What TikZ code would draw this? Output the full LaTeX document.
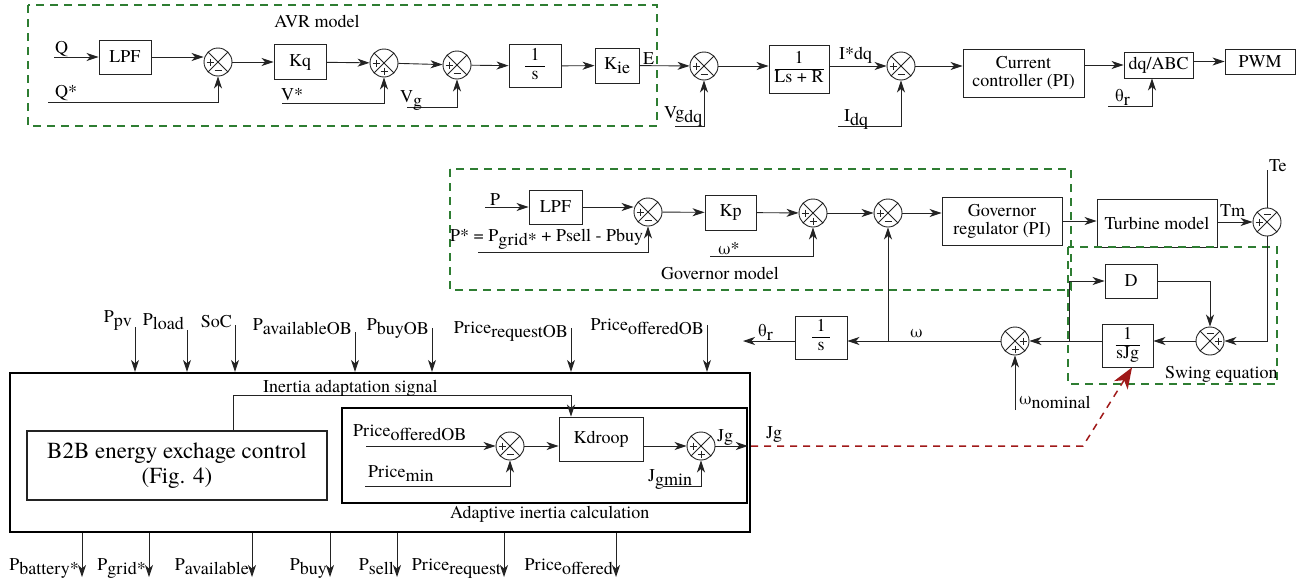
\documentclass[tikz,border=0pt]{standalone}
\usepackage{fontspec}
\setmainfont{TeX Gyre Termes}
\usetikzlibrary{arrows.meta,calc}
\definecolor{dgreen}{RGB}{46,125,50}
\definecolor{dred}{RGB}{160,25,25}
\definecolor{lc}{RGB}{35,35,35}
\newcommand\lw[1]{\raisebox{-4.5pt}{#1}}
\newcommand\frc[3]{{\setlength\arrayrulewidth{0.8pt}\begin{tabular}{@{}c@{}}\makebox[#1]{#2}\\\hline\makebox[#1]{#3}\end{tabular}}}
\newcommand\sgns[2]{%
  \foreach \dx/\dy/\pl in {#2}{%
    \draw[sgn] ($(#1.center)+(\dx-3.5,\dy)$) -- ++(7,0);
    \ifnum\pl=1 \draw[sgn] ($(#1.center)+(\dx,\dy-3.5)$) -- ++(0,7);\fi
  }}
\begin{document}
\begin{tikzpicture}[x=1pt,y=-1pt,
  font=\fontsize{18}{18}\selectfont,
  ln/.style={draw=lc,line width=0.9pt},
  arr/.style={ln,-{Stealth[length=12pt,width=8pt,inset=3.5pt]}},
  blk/.style={draw=lc,line width=0.9pt,inner sep=0pt,align=center},
  bx/.style 2 args={blk,minimum width=#1pt,minimum height=#2pt},
  sumnode/.style={circle,draw=lc,line width=0.9pt,minimum size=28pt,inner sep=0pt,
    path picture={\draw[lc,line width=0.9pt] (path picture bounding box.north west)--(path picture bounding box.south east) (path picture bounding box.north east)--(path picture bounding box.south west);}},
  sgn/.style={draw=lc,line width=0.7pt},
  grp/.style={draw=dgreen,line width=1.8pt,dash pattern=on 8pt off 6pt},
  txt/.style={inner sep=0pt,anchor=base west},
  rtxt/.style={inner sep=0pt,anchor=base east},
]
\useasboundingbox (0,0) rectangle (1307,584);

% ---------------- AVR and current loop ----------------
\draw[grp] (28,5) rectangle (657,126);
\node[inner sep=0pt] (avrlbl) at (317,21) {AVR model};

\coordinate (qin) at (54,57);
\node[txt] (qlbl) at (55,53) {Q};
\node[bx={52}{34}] (lpf1) at (125,57) {LPF};
\node[sumnode] (s1) at (218,62) {};
\draw[arr] (qin) -- (lpf1);
\draw[arr] (lpf1.east) -- (lpf1.east -| s1.west);
\coordinate (qsin) at (48,102);
\node[txt] (qslbl) at (55,97) {Q*};
\draw[arr] (qsin) -| (s1.south);

\node[bx={52}{35}] (kq) at (300,62) {Kq};
\draw[arr] (s1) -- (kq);
\node[sumnode] (s2) at (384,63) {};
\draw[arr] (kq) -- (s2);
\coordinate (vsin) at (282,103);
\draw[arr] (vsin) -| (s2.south);
\node[txt] (vslbl) at (281,100) {V*};

\node[sumnode] (s3) at (457,65) {};
\draw[arr] (s2) -- (s3);
\coordinate (vgin) at (407,107);
\draw[arr] (vgin) -| (s3.south);
\node[txt] (vglbl) at (400,102) {V\lw{g}};

\node[bx={52}{43}] (int1) at (535,66) {\frc{20pt}{1}{s}};
\draw[arr] (s3) -- (int1);
\node[bx={44}{35}] (kie) at (617,65.5) {K\lw{ie}};
\draw[arr] (int1) -- (kie);
\node[txt] (elbl) at (643,64) {E};
\node[sumnode] (s4) at (704,66) {};
\draw[arr] (kie) -- (s4);
\coordinate (vgdq) at (675,126);
\draw[arr] (vgdq) -| (s4.south);
\node[txt] (vgdqlbl) at (664,118) {Vg\lw{dq}};

\node[bx={60}{48}] (lsr) at (799,69) {\frc{49pt}{1}{Ls + R}};
\draw[arr] (s4.east) -- (s4.east -| lsr.west);
\node[txt] (idqslbl) at (839,59) {I*dq};
\node[sumnode] (s5) at (901,66) {};
\draw[arr] (lsr.east |- s5) -- (s5);
\coordinate (idq) at (838,126);
\draw[arr] (idq) -| (s5.south);
\node[txt] (idqlbl) at (844,121) {I\lw{dq}};

\node[bx={121}{48}] (cc) at (1023.5,73) {Current\\controller (PI)};
\draw[arr] (s5) -- (s5 -| cc.west);
\node[bx={69}{26}] (dq) at (1158.5,65) {dq/ABC};
\draw[arr] (dq.west -| cc.east) -- (dq.west);
\coordinate (thin) at (1108,106);
\draw[arr] (thin) -| ([xshift=-6.5pt]dq.south);
\node[txt] (thlbl) at (1115,101) {θ\lw{r}};
\node[bx={70}{25}] (pwm) at (1260,61.5) {PWM};
\draw[arr] (dq.east |- pwm) -- (pwm);

% ---------------- Governor ----------------
\draw[grp] (450,169) rectangle (1071,290);
\node[inner sep=0pt] (govlbl) at (720,273) {Governor model};
\coordinate (pin) at (485,207);
\node[txt] (plbl) at (490,205) {P};
\node[bx={53}{34}] (lpf2) at (555.5,207) {LPF};
\draw[arr] (pin) -- (lpf2);
\node[sumnode] (s6) at (648,212) {};
\draw[arr] (lpf2.east) -- (lpf2.east -| s6.west);
\coordinate (psin) at (478,252);
\draw[arr] (psin) -| (s6.south);
\node[txt] (pslbl) at (450,241) {P* = P\lw{grid*} + Psell - Pbuy};
\node[bx={51}{35}] (kp) at (730.5,212.5) {Kp};
\draw[arr] (s6) -- (kp);
\node[sumnode] (s7) at (813,213) {};
\draw[arr] (kp) -- (s7);
\coordinate (wsin) at (710,256);
\draw[arr] (wsin) -| (s7.south);
\node[txt] (wslbl) at (718,254) {ω*};
\node[sumnode] (s8) at (888,213) {};
\draw[arr] (s7) -- (s8);
\node[bx={120}{48}] (gr) at (1002,221) {Governor\\regulator (PI)};
\draw[arr] (s8) -- (s8 -| gr.west);
\node[bx={120}{48}] (tm) at (1157,223) {Turbine model};
\draw[arr] (gr.east) -- (gr.east -| tm.west);
\node[txt] (tmlbl) at (1220,216) {Tm};
\node[sumnode] (s9) at (1267,222) {};
\draw[arr] (tm.east |- s9) -- (s9);
\coordinate (tein) at (1267,170);
\draw[ln] (tein) -- (s9.north);
\node[txt] (telbl) at (1269,171) {Te};

% ---------------- Swing equation ----------------
\draw[grp] (1068,247) rectangle (1277,384);
\node[txt] (swlbl) at (1165,378) {Swing equation};
\node[sumnode] (s10) at (1210,341) {};
\draw[arr] (s9.south) |- (s10.east);
\node[bx={52}{34}] (dblk) at (1131,281) {D};
\draw[arr] (dblk.east) -| (s10.north);
\node[bx={51}{43}] (jb) at (1127.5,345.5) {\frc{24pt}{1}{sJg}};
\draw[arr] (s10.west) -- (s10.west -| jb.east);
\node[sumnode] (s11) at (1015,341) {};
\draw[arr] (jb.west |- s11) -- (s11);
\coordinate (jd) at (1069,341);
\draw[arr] (jd) |- (dblk.west);
\coordinate (wnom) at (1015,410);
\draw[arr] (wnom) -- (s11.south);
\node[txt] (wnlbl) at (1019,404) {ω\lw{nominal}};
\node[bx={52}{43}] (int2) at (821,337.5) {\frc{18pt}{1}{s}};
\draw[arr] (s11.west) -- (s11.west -| int2.east);
\coordinate (wj) at (888,341);
\draw[arr] (wj) -- (s8.south);
\node[txt] (wlbl) at (910,337) {ω};
\coordinate (thout) at (743,341);
\draw[arr] (int2.west |- thout) -- (thout);
\node[txt] (th2lbl) at (758,336) {θ\lw{r}};

% ---------------- B2B block ----------------
\node[draw=black,line width=2.2pt,minimum width=740pt,minimum height=159pt,inner sep=0pt] (main) at (380,452.5) {};
\foreach \n/\x/\y/\b/\t in {a/135/327/322/{P\lw{pv}}, b/187/330/325/{P\lw{load}}, c/235/325/327/{SoC}, d/355/332/330/{P\lw{availableOB}}, e/432/328/330/{P\lw{buyOB}}, f/571/328/333/{Price\lw{requestOB}}, g/707/325/330/{Price\lw{offeredOB}}}{
  \coordinate (in\n) at (\x,\y);
  \draw[arr] (in\n) -- (in\n |- main.north);
  \node[rtxt] (inl\n) at (\x-3,\b) {\t};
}
\foreach \n/\x/\t in {a/82/{P\lw{battery*}}, b/149/{P\lw{grid*}}, c/252/{P\lw{available}}, d/330/{P\lw{buy}}, e/397/{P\lw{sell}}, f/504/{Price\lw{request}}, g/616/{Price\lw{offered}}}{
  \coordinate (out\n) at (\x,577);
  \draw[arr] (out\n |- main.south) -- (out\n);
  \node[rtxt] (outl\n) at (\x-3,570) {\t};
}
\node[draw=lc,line width=1.3pt,minimum width=300pt,minimum height=69pt,inner sep=0pt,align=center,font=\fontsize{23}{25}\selectfont] (b2b) at (177,465.5) {B2B energy exchage control\\(Fig. 4)};

\node[draw=black,line width=1.6pt,minimum width=405pt,minimum height=95pt,inner sep=0pt] (adp) at (544.5,455.5) {};
\node[txt] (adplbl) at (450,518) {Adaptive inertia calculation};
\node[bx={84}{44}] (kd) at (601,439) {Kdroop};
\draw[arr] ([xshift=56pt]b2b.north) |- ([xshift=-30pt,yshift=21pt]kd.north) -- ([xshift=-30pt]kd.north);
\node[txt] (ial) at (263,392) {Inertia adaptation signal};

\node[txt] (polbl) at (353,436) {Price\lw{offeredOB}};
\coordinate (poin) at (366,446);
\node[sumnode] (s12) at (510,446) {};
\draw[arr] (poin) -- (s12);
\node[txt] (pmlbl) at (368,477) {Price\lw{min}};
\coordinate (pmin) at (365,486);
\draw[arr] (pmin) -| (s12.south);
\draw[arr] (s12) -- (s12 -| kd.west);
\node[sumnode] (s13) at (701,446) {};
\draw[arr] (kd.east |- s13) -- (s13);
\coordinate (jgm) at (663,486);
\draw[arr] (jgm) -| (s13.south);
\node[txt] (jgmlbl) at (648,481) {J\lw{gmin}};
\draw[arr] (s13) -- (s13 -| adp.east);
\node[txt] (jglbl) at (717,441) {Jg};
\node[txt] (jg2lbl) at (766,438) {Jg};

\coordinate (rbend) at (1083,446);
\draw[dred,line width=1.5pt,dash pattern=on 7pt off 6pt,-{Stealth[length=21pt,width=16pt,inset=6pt]}] (s13 -| main.east) -- (rbend) -- ([xshift=4.5pt]jb.south);

% ---------------- signs ----------------
\sgns{s1}{-8/0/1, 0/8/0}
\sgns{s2}{-8/0/1, 0/8/1}
\sgns{s3}{-8/0/1, 0/8/0}
\sgns{s4}{-8/0/1, 0/8/0}
\sgns{s5}{-8/0/1, 0/8/0}
\sgns{s6}{-8/0/1, 0/8/0}
\sgns{s7}{-8/0/1, 0/8/1}
\sgns{s8}{-8/0/1, 0/8/0}
\sgns{s9}{0/-8/0, -8/0/1}
\sgns{s10}{0/-8/0, 8/0/1}
\sgns{s11}{8/0/1, 0/8/1}
\sgns{s12}{-8/0/1, 0/8/0}
\sgns{s13}{-8/0/1, 0/8/1}
\end{tikzpicture}
\end{document}
